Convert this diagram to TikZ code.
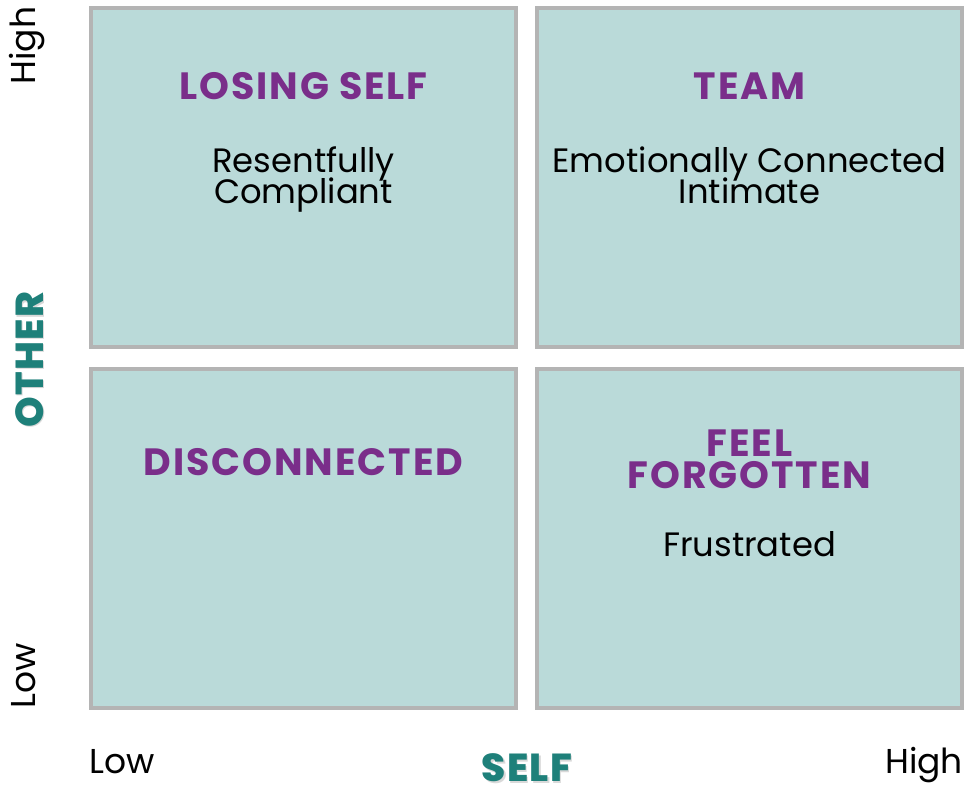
\documentclass[tikz,border=0pt]{standalone}
\usepackage{fontspec}
\setmainfont{Poppins}
\newfontfamily\heavyfont{Poppins ExtraBold}
\definecolor{quadfill}{HTML}{BADAD9}
\definecolor{quadline}{HTML}{B4B4B4}
\definecolor{headpurple}{HTML}{7A2E8A}
\definecolor{axisteal}{HTML}{1E807A}
\begin{document}
\begin{tikzpicture}[x=1pt,y=-1pt,
  quad/.style={draw=quadline,fill=quadfill,line width=4pt,minimum width=425pt,minimum height=339pt,inner sep=0pt},
  head/.style={text=headpurple,font=\fontsize{38}{38}\selectfont\bfseries\addfontfeature{LetterSpace=5},anchor=base,inner sep=0pt},
  txt/.style={font=\fontsize{33.8}{33.8}\selectfont,anchor=base,inner sep=0pt},
  lvl/.style={font=\fontsize{34.5}{34.5}\selectfont,anchor=base,inner sep=0pt},
  axisname/.style={text=axisteal,font=\fontsize{39}{39}\selectfont\heavyfont\addfontfeature{LetterSpace=3},anchor=base,inner sep=0pt},
  shade/.style={axisname,text=black,opacity=.15}]
\useasboundingbox (0,0) rectangle (964,788);
% the four quadrants
\node[quad] (losing) at (303.5,177.5) {};
\node[quad] (team) at (749.5,177.5) {};
\node[quad] (disc) at (303.5,538) {};
\node[quad] (forgot) at (749.5,538) {};
% quadrant titles and descriptions
\node[head] (losingT) at (303.5,99) {LOSING SELF};
\node[txt] (losingA) at (303.5,172.5) {Resentfully};
\node[txt] (losingB) at (303.5,203) {Compliant};
\node[head] (teamT) at (749.5,99) {TEAM};
\node[txt] (teamA) at (749.5,172.5) {Emotionally Connected};
\node[txt] (teamB) at (749.5,203) {Intimate};
\node[head] (discT) at (303.5,475) {DISCONNECTED};
\node[head] (forgotA) at (749.5,456.7) {FEEL};
\node[head] (forgotB) at (749.5,488.3) {FORGOTTEN};
\node[txt] (forgotC) at (749.5,556) {Frustrated};
% axes
\node[lvl,rotate=90] (otherHi) at (35,45.5) {High};
\node[lvl,rotate=90] (otherLo) at (35,676) {Low};
\node[lvl] (selfLo) at (122,773.3) {Low};
\node[lvl] (selfHi) at (924,773.3) {High};
\node[shade,rotate=90] (otherSh) at (44.5,361) {OTHER};
\node[axisname,rotate=90] (other) at (43,359.5) {OTHER};
\node[shade] (selfSh) at (528.5,783) {SELF};
\node[axisname] (self) at (527,781.5) {SELF};
\end{tikzpicture}
\end{document}
